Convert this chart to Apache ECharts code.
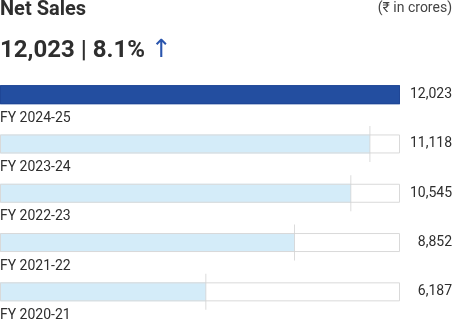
<!DOCTYPE html>
<html>
<head>
<meta charset="utf-8">
<script src="https://cdn.jsdelivr.net/npm/echarts@6/dist/echarts.min.js"></script>
<style>
  html, body { margin: 0; padding: 0; background: #fff; }
  #chart { width: 463px; height: 335px; }
</style>
</head>
<body>
<div id="chart"></div>
<script>
// Net sales by financial year, in ₹ crores (latest year first)
const categories = ['FY 2024-25', 'FY 2023-24', 'FY 2022-23', 'FY 2021-22', 'FY 2020-21'];
const netSales = [12023, 11118, 10545, 8852, 6187];
const headlineValue = '12,023';
const growthText = '8.1%';
const titleText = 'Net Sales';
const unitText = '(₹ in crores)';

const FONT = 'Roboto, "Noto Sans", "DejaVu Sans", sans-serif';
const DARK_BLUE = '#234ea0';
const LIGHT_BLUE = '#d4ecf9';
const TRACK_BORDER = '#d9d9d9';
const MARKER = '#d2d2d2';
const TEXT = '#2e2e2e';

const maxValue = Math.max(...netSales);
const fmt = v => String(v).replace(/\B(?=(\d{3})+(?!\d))/g, ',');

const chart = echarts.init(document.getElementById('chart'), null, { renderer: 'canvas' });

chart.setOption({
  animation: false,
  backgroundColor: '#fff',
  title: [
    {
      text: titleText, left: 0, top: 0, padding: 0,
      textStyle: { fontFamily: FONT, fontSize: 20, fontWeight: 'bold', color: TEXT }
    },
    {
      text: unitText, right: 11, top: 1, padding: 0,
      textStyle: { fontFamily: FONT, fontSize: 14, fontWeight: 'normal', color: '#444' }
    },
    {
      text: headlineValue + ' | ' + growthText + ' {up|↑}', left: 0, top: 38, padding: 0,
      textStyle: {
        fontFamily: FONT, fontSize: 24, fontWeight: 'bold', color: TEXT,
        rich: { up: { fontFamily: '"DejaVu Sans", sans-serif', fontSize: 25, fontWeight: 'normal', color: '#2a55ad' } }
      }
    }
  ],
  grid: { left: 0, right: 63, top: 70, bottom: 18.5, containLabel: false },
  xAxis: { type: 'value', min: 0, max: maxValue, show: false },
  yAxis: { type: 'category', data: categories, inverse: true, show: false },
  series: [
    {
      // filled portion of each row
      name: 'fill', type: 'bar', barWidth: 19, barGap: '-100%', z: 2, silent: true,
      data: netSales.map((v, i) => ({
        value: v,
        itemStyle: { color: i === 0 ? DARK_BLUE : LIGHT_BLUE }
      })),
      label: {
        show: true, position: [0, '100%'], offset: [0, 7],
        align: 'left', verticalAlign: 'top',
        formatter: '{b}', fontFamily: FONT, fontSize: 14, color: TEXT
      }
    },
    {
      // outlined track spanning the full scale
      name: 'track', type: 'bar', barWidth: 19, barGap: '-100%', z: 3, silent: true,
      data: netSales.map((v, i) => ({
        value: maxValue,
        itemStyle: {
          color: 'rgba(0,0,0,0)',
          borderColor: i === 0 ? '#1f4696' : TRACK_BORDER,
          borderWidth: 1
        }
      })),
      label: {
        show: true, position: ['100%', '50%'], offset: [52, 0],
        align: 'right', verticalAlign: 'middle',
        formatter: p => fmt(netSales[p.dataIndex]),
        fontFamily: FONT, fontSize: 14, color: TEXT
      }
    },
    {
      // thin tick marking where each value ends
      name: 'marker', type: 'scatter', z: 4, silent: true,
      symbol: 'rect', symbolSize: [1, 36],
      itemStyle: { color: MARKER },
      data: netSales.map((v, i) => [v, i]).filter(d => d[0] < maxValue)
    }
  ]
});
</script>
</body>
</html>
